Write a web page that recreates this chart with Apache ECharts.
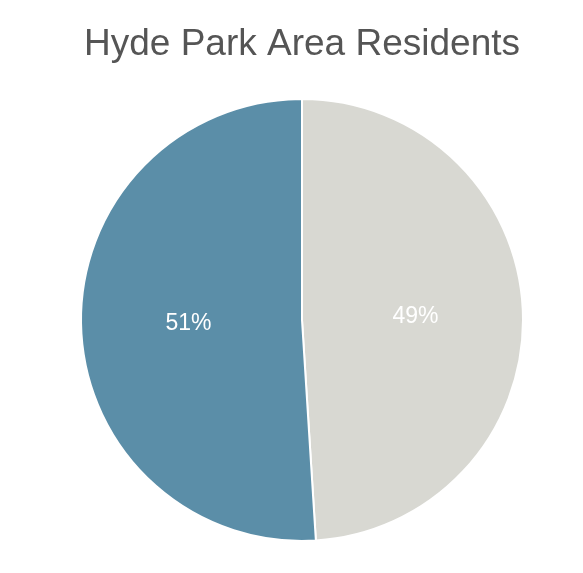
<!DOCTYPE html>
<html><head><meta charset="utf-8">
<script src="https://cdn.jsdelivr.net/npm/echarts@6/dist/echarts.min.js"></script>
<style>html,body{margin:0;padding:0;background:#fff}#c{width:583px;height:573px}</style>
</head><body><div id="c"></div>
<script>
const categories = ["Group B", "Group A"];
const values = [49, 51];
const colors = ["#d8d8d2", "#5b8ea8"];
const titleText = "Hyde Park Area Residents";

const chart = echarts.init(document.getElementById('c'), null, {renderer: 'canvas'});
chart.setOption({
  animation: false,
  title: {
    text: titleText, left: 297, top: 21, textAlign: 'center',
    textStyle: {fontFamily: 'Liberation Sans', fontSize: 37, fontWeight: 'normal', color: '#555555'}
  },
  series: [{
    type: 'pie',
    center: [302, 320],
    radius: [0, 221],
    startAngle: 90,
    clockwise: true,
    data: categories.map((c, i) => ({name: c, value: values[i], itemStyle: {color: colors[i]}})),
    itemStyle: {borderColor: '#ffffff', borderWidth: 2},
    label: {
      show: true, position: 'inside', formatter: p => Math.round(p.percent) + '%',
      color: '#ffffff', fontFamily: 'Liberation Sans', fontSize: 23
    },
    labelLine: {show: false},
    emphasis: {disabled: true}
  }]
});
</script></body></html>
